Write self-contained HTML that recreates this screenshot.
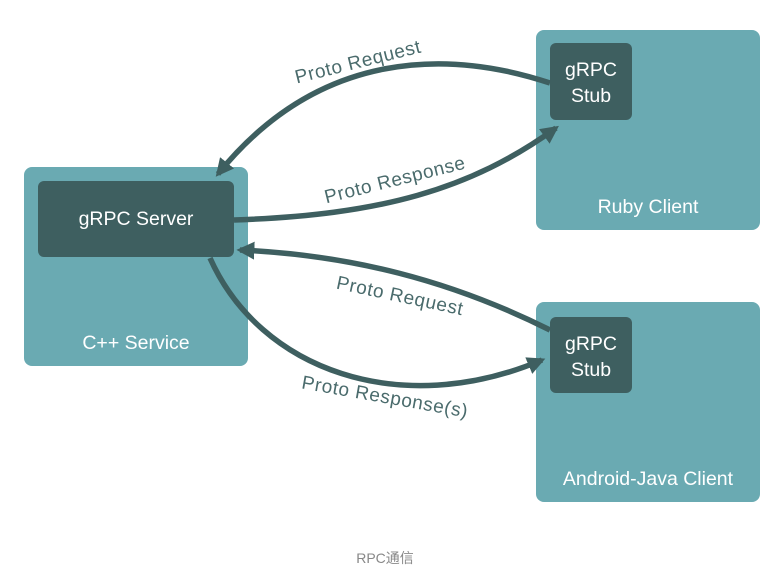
<!DOCTYPE html>
<html><head><meta charset="utf-8"><style>
html,body{margin:0;padding:0;background:#fff;}
svg{display:block;}
</style></head><body>
<svg width="775" height="581" viewBox="0 0 775 581" xmlns="http://www.w3.org/2000/svg" font-family="Liberation Sans, sans-serif">
<defs>
<marker id="a" viewBox="0 0 10 10" markerWidth="18" markerHeight="18" refX="8" refY="5" orient="auto" markerUnits="userSpaceOnUse">
<path d="M0,0 L10,5 L0,10 Z" fill="#3e5f60"/>
</marker>
</defs>
<rect x="24" y="167" width="224" height="199" rx="8" fill="#6aaab2"/>
<rect x="536" y="30" width="224" height="200" rx="8" fill="#6aaab2"/>
<rect x="536" y="302" width="224" height="200" rx="8" fill="#6aaab2"/>
<rect x="38" y="181" width="196" height="76" rx="6" fill="#3e5f60"/>
<rect x="550" y="43" width="82" height="77" rx="6" fill="#3e5f60"/>
<rect x="550" y="317" width="82" height="76" rx="6" fill="#3e5f60"/>
<g fill="#fff" font-size="19.5" text-anchor="middle">
<text x="136" y="225">gRPC Server</text>
<text x="136" y="349">C++ Service</text>
<text x="591" y="76">gRPC</text>
<text x="591" y="102">Stub</text>
<text x="648" y="213">Ruby Client</text>
<text x="591" y="350">gRPC</text>
<text x="591" y="376">Stub</text>
<text x="648" y="485">Android-Java Client</text>
</g>
<g fill="none" stroke="#3e5f60" stroke-width="5.5">
<path d="M550,83 C450,50 320,48 218,174" marker-end="url(#a)"/>
<path d="M234,220 C380,215 470,190 556,128" marker-end="url(#a)"/>
<path d="M550,330 C450,280 350,255 240,250" marker-end="url(#a)"/>
<path d="M210,258 C260,370 400,420 542,360" marker-end="url(#a)"/>
</g>
<g fill="#4a6b6c" font-size="19" text-anchor="middle" letter-spacing="0.6">
<text x="358" y="68" transform="rotate(-14 358 62)">Proto Request</text>
<text x="395" y="186" transform="rotate(-14 395 180)">Proto Response</text>
<text x="400" y="302" transform="rotate(12 400 296)">Proto Request</text>
<text x="385" y="403" transform="rotate(10 385 397)">Proto Response(s)</text>
</g>
<text x="385" y="563" fill="#888" font-size="14" text-anchor="middle" font-family="Liberation Sans, Noto Sans CJK SC, sans-serif">RPC通信</text>
</svg>
</body></html>
